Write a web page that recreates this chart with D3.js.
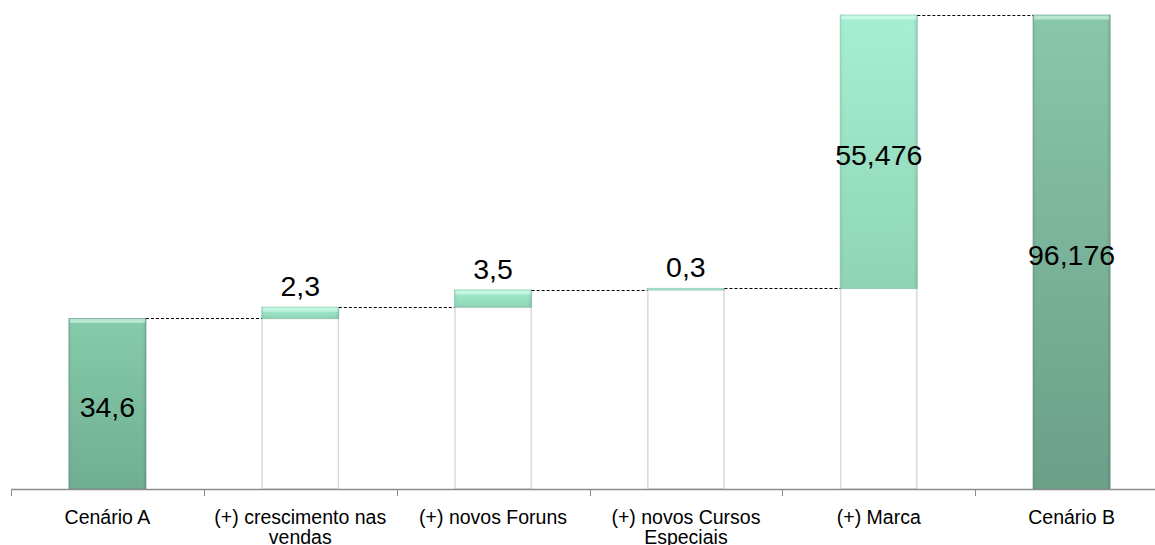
<!DOCTYPE html>
<html>
<head>
<meta charset="utf-8">
<script src="https://cdn.jsdelivr.net/npm/d3@7"></script>
<style>
  html, body { margin: 0; padding: 0; background: #fff; overflow: hidden; }
  svg { display: block; font-family: 'Liberation Sans', Arial, sans-serif; }
</style>
</head>
<body>
<svg id="chart"></svg>
<script>
const categories = ['Cenário A', '(+) crescimento nas vendas', '(+) novos Foruns', '(+) novos Cursos Especiais', '(+) Marca', 'Cenário B'];
const values = [34.6, 2.3, 3.5, 0.3, 55.476, 96.176];
const labels = ['34,6', '2,3', '3,5', '0,3', '55,476', '96,176'];
const kinds = ['total', 'step', 'step', 'step', 'step', 'total'];

const width = 1155;
const height = 545;

const svg = d3.select('#chart')
  .attr('width', width)
  .attr('height', height);

// build waterfall rows: start and end of every bar
let running = 0;
const rows = categories.map((c, i) => {
  let start, end;
  if (kinds[i] === 'total') {
    start = 0;
    end = values[i];
    running = values[i];
  } else {
    start = running;
    end = running + values[i];
    running = end;
  }
  return { cat: c, value: values[i], label: labels[i], kind: kinds[i], start, end, i };
});

const x = d3.scaleBand()
  .domain(categories)
  .range([11, 1168])
  .paddingInner(0.6)
  .paddingOuter(0.3);

const y = d3.scaleLinear()
  .domain([0, d3.max(rows, d => d.end)])
  .range([489, 15]);

const defs = svg.append('defs');

function gradient(id, top, bottom) {
  const g = defs.append('linearGradient')
    .attr('id', id)
    .attr('x1', 0).attr('y1', 0)
    .attr('x2', 0).attr('y2', 1);
  g.append('stop').attr('offset', '0%').attr('stop-color', top);
  g.append('stop').attr('offset', '100%').attr('stop-color', bottom);
}
gradient('fillA', '#86cbab', '#6fae92');
gradient('fillStep', '#a6efd3', '#8fd4b6');
gradient('fillB', '#89c7ab', '#6a9f88');

const sideShade = defs.append('linearGradient')
  .attr('id', 'side')
  .attr('x1', 0).attr('y1', 0)
  .attr('x2', 1).attr('y2', 0);
sideShade.append('stop').attr('offset', '0%').attr('stop-color', '#000').attr('stop-opacity', 0.06);
sideShade.append('stop').attr('offset', '8%').attr('stop-color', '#fff').attr('stop-opacity', 0);
sideShade.append('stop').attr('offset', '92%').attr('stop-color', '#fff').attr('stop-opacity', 0);
sideShade.append('stop').attr('offset', '100%').attr('stop-color', '#000').attr('stop-opacity', 0.12);

// invisible base bars under the floating steps
svg.append('g')
  .selectAll('rect')
  .data(rows.filter(d => d.kind === 'step'))
  .enter()
  .append('rect')
  .attr('x', d => x(d.cat) + 0.5)
  .attr('y', d => y(d.start))
  .attr('width', x.bandwidth() - 1)
  .attr('height', d => y(0) - y(d.start))
  .attr('fill', '#fff')
  .attr('stroke', '#d9d9d9')
  .attr('stroke-width', 1.5);

// coloured bars
const bars = svg.append('g')
  .selectAll('g')
  .data(rows)
  .enter()
  .append('g');

const fillFor = d => d.kind === 'step' ? 'url(#fillStep)' : (d.i === 0 ? 'url(#fillA)' : 'url(#fillB)');

bars.append('rect')
  .attr('x', d => x(d.cat))
  .attr('y', d => y(d.end))
  .attr('width', x.bandwidth())
  .attr('height', d => Math.max(1, y(d.start) - y(d.end)))
  .attr('fill', fillFor)
  .attr('stroke', d => d.kind === 'step' ? '#7fbfa3' : '#5f917b')
  .attr('stroke-opacity', 0.6)
  .attr('stroke-width', 1);

bars.append('rect')
  .attr('x', d => x(d.cat))
  .attr('y', d => y(d.end))
  .attr('width', x.bandwidth())
  .attr('height', d => Math.max(1, y(d.start) - y(d.end)))
  .attr('fill', 'url(#side)');

// top bevel highlight
bars.append('rect')
  .attr('x', d => x(d.cat) + 1)
  .attr('y', d => y(d.end) + 0.5)
  .attr('width', x.bandwidth() - 2)
  .attr('height', d => Math.min(4, Math.max(0, y(d.start) - y(d.end) - 1)))
  .attr('fill', '#e0fff2')
  .attr('opacity', 0.55);

// dashed connectors
svg.append('g')
  .selectAll('line')
  .data(rows.slice(0, -1))
  .enter()
  .append('line')
  .attr('x1', d => x(d.cat) + x.bandwidth())
  .attr('x2', d => x(categories[d.i + 1]))
  .attr('y1', d => Math.round(y(d.end)) + 0.5)
  .attr('y2', d => Math.round(y(d.end)) + 0.5)
  .attr('stroke', '#000')
  .attr('stroke-width', 1)
  .attr('stroke-dasharray', '3,2');

// value labels
bars.append('text')
  .attr('x', d => x(d.cat) + x.bandwidth() / 2)
  .attr('y', d => {
    const h = y(d.start) - y(d.end);
    return h < 30 ? y(d.end) - 11 : (y(d.start) + y(d.end)) / 2 + 13;
  })
  .attr('text-anchor', 'middle')
  .attr('font-size', 28.5)
  .attr('fill', '#000')
  .text(d => d.label);

// axis
const axisY = y(0);
const axis = svg.append('g');
axis.append('line')
  .attr('x1', x.range()[0])
  .attr('x2', x.range()[1])
  .attr('y1', axisY + 0.5)
  .attr('y2', axisY + 0.5)
  .attr('stroke', '#8c8c8c')
  .attr('stroke-width', 1.5);

axis.selectAll('.tick')
  .data(d3.range(categories.length + 1))
  .enter()
  .append('line')
  .attr('class', 'tick')
  .attr('x1', i => Math.round(x.range()[0] + i * x.step()) + 0.5)
  .attr('x2', i => Math.round(x.range()[0] + i * x.step()) + 0.5)
  .attr('y1', axisY)
  .attr('y2', axisY + 7)
  .attr('stroke', '#8c8c8c')
  .attr('stroke-width', 1);

function wrapWords(text, maxWidth, fontSize) {
  const ctx = document.createElement('canvas').getContext('2d');
  ctx.font = `${fontSize}px 'Liberation Sans', Arial, sans-serif`;
  const words = text.split(' ');
  const lines = [];
  let line = '';
  words.forEach(w => {
    const test = line ? line + ' ' + w : w;
    if (ctx.measureText(test).width > maxWidth && line) {
      lines.push(line);
      line = w;
    } else {
      line = test;
    }
  });
  lines.push(line);
  return lines;
}

const catLabels = axis.selectAll('.cat')
  .data(rows)
  .enter()
  .append('text')
  .attr('class', 'cat')
  .attr('text-anchor', 'middle')
  .attr('font-size', 19.5)
  .attr('fill', '#000');

catLabels.each(function (d) {
  const lines = wrapWords(d.cat, 185, 19.5);
  const t = d3.select(this);
  lines.forEach((ln, k) => {
    t.append('tspan')
      .attr('x', x(d.cat) + x.bandwidth() / 2)
      .attr('y', axisY + 35 + k * 19.5)
      .text(ln);
  });
});
</script>
</body>
</html>
